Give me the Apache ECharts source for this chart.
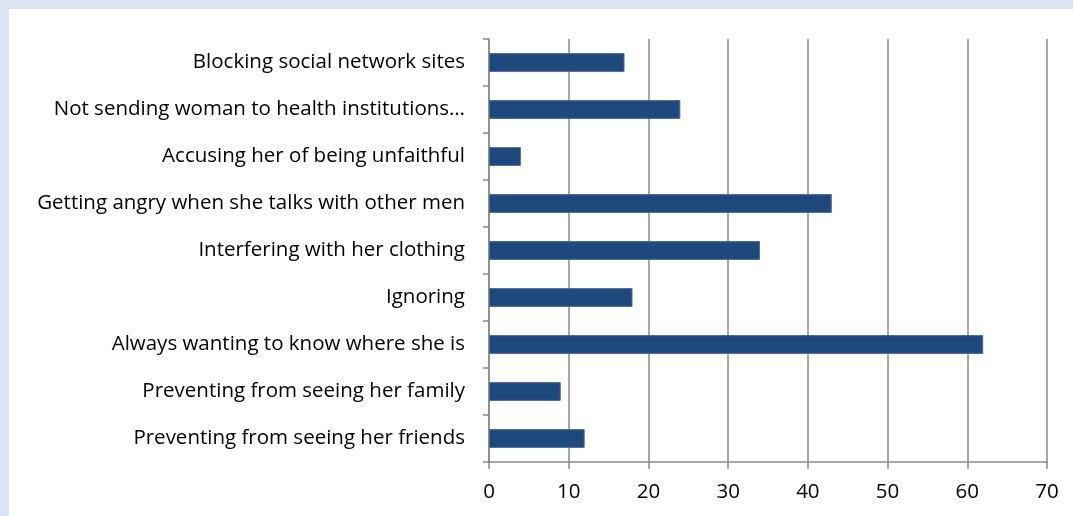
<!DOCTYPE html>
<html><head><meta charset="utf-8">
<script src="https://cdn.jsdelivr.net/npm/echarts@6/dist/echarts.min.js"></script>
<style>
html,body{margin:0;padding:0;background:#dbe5f1;width:1073px;height:516px;overflow:hidden}
#c{position:absolute;left:9px;top:9px;width:1064px;height:507px;background:#fff}
</style></head><body>
<div id="c"></div>
<script>
const categories = [
  "Blocking social network sites",
  "Not sending woman to health institutions…",
  "Accusing her of being unfaithful",
  "Getting angry when she talks with other men",
  "Interfering with her clothing",
  "Ignoring",
  "Always wanting to know where she is",
  "Preventing from seeing her family",
  "Preventing from seeing her friends"
];
const values = [17, 24, 4, 43, 34, 18, 62, 9, 12];
const xTicks = [0, 10, 20, 30, 40, 50, 60, 70];

const chart = echarts.init(document.getElementById('c'), null, {renderer:'canvas'});
const font = "Open Sans";
chart.setOption({
  animation:false,
  grid:{left:480, right:26, top:30, bottom:54, containLabel:false},
  xAxis:{
    type:'value', min:xTicks[0], max:xTicks[xTicks.length-1], interval:10,
    axisLine:{show:true, lineStyle:{color:'#8a8a8a', width:1.5}},
    axisTick:{show:true, length:7, lineStyle:{color:'#8a8a8a', width:1.5}},
    splitLine:{show:true, lineStyle:{color:'#8a8a8a', width:1.5}},
    axisLabel:{color:'#000', fontFamily:font, fontSize:20.5, margin:20}
  },
  yAxis:{
    type:'category', data:categories, inverse:true,
    axisLine:{show:true, lineStyle:{color:'#8a8a8a', width:1.5}},
    axisTick:{show:true, length:6, alignWithLabel:false, lineStyle:{color:'#8a8a8a', width:1.5}},
    axisLabel:{color:'#000', fontFamily:font, fontSize:20.5, margin:24}
  },
  series:[{
    type:'bar', data:values, barCategoryGap:'60%',
    itemStyle:{color:'#1f497d', borderColor:'#4a6d99', borderWidth:1}
  }]
});
</script>
</body></html>
